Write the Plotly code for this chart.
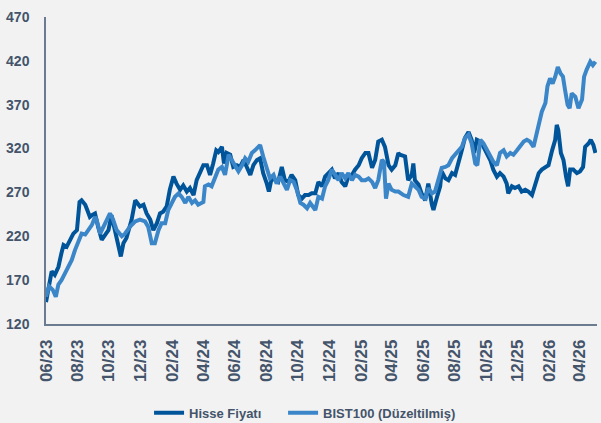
import plotly.graph_objects as go

# ---------------- data ----------------
hisse_dates = [
    "2023-06-01","2023-06-09","2023-06-12","2023-06-18","2023-06-25","2023-07-01","2023-07-05","2023-07-11",
    "2023-07-18","2023-07-24","2023-07-31","2023-08-05","2023-08-09","2023-08-16","2023-08-20","2023-08-25",
    "2023-08-29","2023-09-04","2023-09-10","2023-09-17","2023-09-23","2023-09-30","2023-10-06","2023-10-13",
    "2023-10-19","2023-10-24","2023-10-29","2023-11-04","2023-11-14","2023-11-21","2023-11-25","2023-11-30",
    "2023-12-07","2023-12-13","2023-12-20","2023-12-26","2024-01-02","2024-01-08","2024-01-14","2024-01-21",
    "2024-01-27","2024-02-03","2024-02-09","2024-02-16","2024-02-22","2024-02-29","2024-03-06","2024-03-13",
    "2024-03-19","2024-03-26","2024-04-01","2024-04-08","2024-04-14","2024-04-20","2024-04-26","2024-04-30",
    "2024-05-07","2024-05-11","2024-05-16","2024-05-23","2024-05-29","2024-06-05","2024-06-11","2024-06-18",
    "2024-06-24","2024-07-01","2024-07-07","2024-07-14","2024-07-20","2024-07-26","2024-08-02","2024-08-06",
    "2024-08-12","2024-08-18","2024-08-24","2024-08-31","2024-09-06","2024-09-13","2024-09-19","2024-09-26",
    "2024-10-02","2024-10-09","2024-10-15","2024-10-22","2024-10-28","2024-11-04","2024-11-10","2024-11-17",
    "2024-11-23","2024-11-29","2024-12-06","2024-12-12","2024-12-19","2024-12-25","2025-01-01","2025-01-07",
    "2025-01-14","2025-01-20","2025-01-27","2025-02-02","2025-02-09","2025-02-15","2025-02-22","2025-02-28",
    "2025-03-06","2025-03-13","2025-03-19","2025-03-26","2025-04-01","2025-04-08","2025-04-14","2025-04-17",
    "2025-04-27","2025-05-03","2025-05-10","2025-05-13","2025-05-16","2025-05-23","2025-05-29","2025-06-05",
    "2025-06-11","2025-06-18","2025-06-21","2025-06-28","2025-07-04","2025-07-07","2025-07-14","2025-07-20",
    "2025-07-27","2025-08-02","2025-08-08","2025-08-15","2025-08-21","2025-08-28","2025-09-03","2025-09-08",
    "2025-09-13","2025-09-20","2025-09-26","2025-10-03","2025-10-09","2025-10-15","2025-10-22","2025-10-28",
    "2025-11-04","2025-11-10","2025-11-13","2025-11-20","2025-11-26","2025-12-03","2025-12-09","2025-12-16",
    "2025-12-22","2025-12-29","2026-01-04","2026-01-11","2026-01-17","2026-01-24","2026-01-30","2026-02-06",
    "2026-02-12","2026-02-15","2026-02-18","2026-02-23","2026-02-28","2026-03-05","2026-03-09","2026-03-13",
    "2026-03-19","2026-03-26","2026-04-01","2026-04-07","2026-04-11","2026-04-18","2026-04-22","2026-04-27",
    "2026-05-01",
]
hisse_values = [
    145, 170, 180, 176, 185, 201, 210, 208,
    216, 223, 227, 259, 261, 256, 250, 242,
    244, 246, 231, 216, 221, 227, 244, 227,
    208, 197, 212, 218, 239, 261, 258, 254,
    256, 246, 239, 227, 235, 246, 248, 254,
    273, 288, 280, 273, 278, 271, 275, 267,
    284, 292, 301, 301, 290, 303, 318, 316,
    322, 303, 315, 313, 299, 301, 299, 307,
    299, 290, 301, 307, 309, 292, 280, 271,
    288, 284, 282, 299, 284, 282, 290, 284,
    267, 263, 267, 267, 269, 269, 282, 277,
    288, 292, 296, 286, 292, 282, 277, 288,
    290, 296, 301, 309, 315, 315, 298, 307,
    328, 330, 322, 301, 296, 301, 315, 313,
    311, 284, 290, 303, 284, 279, 269, 261,
    280, 256, 250, 265, 277, 294, 286, 284,
    292, 290, 305, 318, 332, 339, 330, 315,
    330, 328, 322, 313, 307, 296, 288, 292,
    288, 280, 269, 277, 275, 277, 271, 273,
    271, 267, 280, 292, 296, 299, 301, 318,
    330, 347, 341, 315, 307, 288, 277, 296,
    296, 292, 294, 299, 322, 326, 330, 324,
    315,
]

bist_dates = [
    "2023-06-01","2023-06-07","2023-06-14","2023-06-20","2023-06-25","2023-07-01","2023-07-08","2023-07-14",
    "2023-07-21","2023-07-27","2023-08-03","2023-08-09","2023-08-16","2023-08-22","2023-08-29","2023-09-04",
    "2023-09-07","2023-09-14","2023-09-20","2023-09-27","2023-10-03","2023-10-09","2023-10-16","2023-10-26",
    "2023-11-01","2023-11-11","2023-11-21","2023-11-30","2023-12-10","2023-12-16","2023-12-23","2023-12-29",
    "2024-01-05","2024-01-11","2024-01-18","2024-01-24","2024-01-31","2024-02-06","2024-02-13","2024-02-19",
    "2024-02-26","2024-03-03","2024-03-10","2024-03-16","2024-03-22","2024-04-01","2024-04-04","2024-04-11",
    "2024-04-17","2024-04-24","2024-04-30","2024-05-07","2024-05-13","2024-05-20","2024-05-26","2024-06-02",
    "2024-06-08","2024-06-15","2024-06-21","2024-06-27","2024-07-04","2024-07-10","2024-07-20","2024-07-26",
    "2024-08-02","2024-08-08","2024-08-15","2024-08-21","2024-08-28","2024-09-03","2024-09-10","2024-09-16",
    "2024-09-23","2024-09-29","2024-10-06","2024-10-12","2024-10-19","2024-10-25","2024-11-04","2024-11-10",
    "2024-11-17","2024-11-23","2024-11-29","2024-12-06","2024-12-12","2024-12-19","2024-12-25","2025-01-01",
    "2025-01-07","2025-01-14","2025-01-20","2025-01-27","2025-02-02","2025-02-09","2025-02-15","2025-02-22",
    "2025-02-28","2025-03-06","2025-03-13","2025-03-17","2025-03-21","2025-03-26","2025-04-01","2025-04-08",
    "2025-04-14","2025-04-24","2025-05-03","2025-05-10","2025-05-16","2025-05-23","2025-05-29","2025-06-05",
    "2025-06-11","2025-06-18","2025-06-24","2025-07-01","2025-07-07","2025-07-14","2025-07-20","2025-07-27",
    "2025-08-02","2025-08-08","2025-08-15","2025-08-21","2025-08-28","2025-09-03","2025-09-10","2025-09-14",
    "2025-09-20","2025-09-26","2025-10-03","2025-10-09","2025-10-15","2025-10-22","2025-10-28","2025-11-04",
    "2025-11-10","2025-11-17","2025-11-23","2025-11-30","2025-12-06","2025-12-13","2025-12-19","2025-12-25",
    "2026-01-01","2026-01-07","2026-01-10","2026-01-17","2026-01-24","2026-01-28","2026-02-02","2026-02-07",
    "2026-02-12","2026-02-17","2026-02-22","2026-02-27","2026-03-03","2026-03-08","2026-03-12","2026-03-16",
    "2026-03-23","2026-03-29","2026-04-05","2026-04-09","2026-04-14","2026-04-21","2026-04-26","2026-05-01",
]
bist_values = [
    151, 163, 159, 151, 165, 170, 178, 185,
    193, 204, 216, 223, 222, 227, 233, 242,
    239, 223, 231, 239, 246, 239, 227, 220,
    223, 231, 237, 239, 237, 231, 212, 212,
    227, 235, 235, 250, 258, 265, 269, 265,
    258, 265, 258, 261, 256, 259, 277, 279,
    277, 288, 296, 299, 290, 313, 307, 298,
    294, 301, 309, 305, 315, 318, 324, 311,
    296, 286, 290, 280, 288, 282, 273, 284,
    282, 273, 258, 256, 252, 258, 250, 265,
    263, 277, 284, 296, 290, 284, 292, 286,
    292, 284, 290, 288, 284, 284, 286, 282,
    275, 284, 307, 305, 263, 280, 273, 271,
    271, 267, 265, 280, 277, 273, 265, 263,
    275, 269, 271, 284, 298, 299, 301, 309,
    313, 317, 322, 332, 336, 326, 303, 301,
    330, 326, 318, 313, 305, 301, 315, 318,
    311, 315, 313, 318, 322, 328, 330, 328,
    322, 337, 349, 362, 372, 391, 400, 394,
    402, 413, 406, 402, 387, 370, 366, 383,
    379, 366, 376, 402, 410, 419, 415, 419,
]

tick_dates = [
    "2023-06-01","2023-08-01","2023-10-01","2023-12-01","2024-02-01","2024-04-01","2024-06-01","2024-08-01",
    "2024-10-01","2024-12-01","2025-02-01","2025-04-01","2025-06-01","2025-08-01","2025-10-01","2025-12-01",
    "2026-02-01","2026-04-01",
]
tick_labels = [
    "06/23","08/23","10/23","12/23","02/24","04/24","06/24","08/24",
    "10/24","12/24","02/25","04/25","06/25","08/25","10/25","12/25",
    "02/26","04/26",
]
y_ticks = [120, 170, 220, 270, 320, 370, 420, 470]

series_names = ["Hisse Fiyatı", "BIST100 (Düzeltilmiş)"]

# ---------------- figure ----------------
DARK = "#00549A"
LIGHT = "#3A86C8"
TXT = "#44546A"
AXIS = "#6B7B90"
BG = "#F2F2F2"
FONT = "Liberation Sans, Arial, sans-serif"

fig = go.Figure()
fig.add_trace(go.Scatter(x=hisse_dates, y=hisse_values, mode="lines", name=series_names[0],
                         line=dict(color=DARK, width=4), legend="legend"))
fig.add_trace(go.Scatter(x=bist_dates, y=bist_values, mode="lines", name=series_names[1],
                         line=dict(color=LIGHT, width=4), legend="legend2"))

legend_common = dict(orientation="h", xref="container", yref="container",
                     y=0.024, xanchor="left", yanchor="middle",
                     font=dict(size=13, color=TXT, weight="bold"),
                     bgcolor="rgba(0,0,0,0)", itemwidth=30)

fig.update_layout(
    width=601, height=423,
    margin=dict(l=46, r=4, t=17, b=99, autoexpand=False),
    paper_bgcolor=BG, plot_bgcolor=BG,
    font=dict(family=FONT, color=TXT),
    showlegend=True,
    legend=dict(x=0.248, **legend_common),
    legend2=dict(x=0.471, **legend_common),
)
fig.update_xaxes(
    type="date", range=["2023-06-01", "2026-05-04"], automargin=False,
    tickmode="array", tickvals=tick_dates, ticktext=tick_labels,
    tickangle=-90, tickfont=dict(size=17, color=TXT, weight="bold"),
    showgrid=False, zeroline=False, showline=True, linecolor=AXIS, linewidth=1.5,
    ticks="", ticklabelstandoff=7,
)
fig.update_yaxes(
    range=[120, 470], tickmode="array", tickvals=y_ticks, automargin=False,
    tickfont=dict(size=14, color=TXT, weight="bold"),
    showgrid=False, zeroline=False, showline=True, linecolor=AXIS, linewidth=1.5,
    ticks="", ticklabelstandoff=12,
)

fig.write_html(
    "out.html",
    config={"displayModeBar": False},
    post_script="document.body.style.margin='0';document.body.style.background='%s';" % BG,
)
